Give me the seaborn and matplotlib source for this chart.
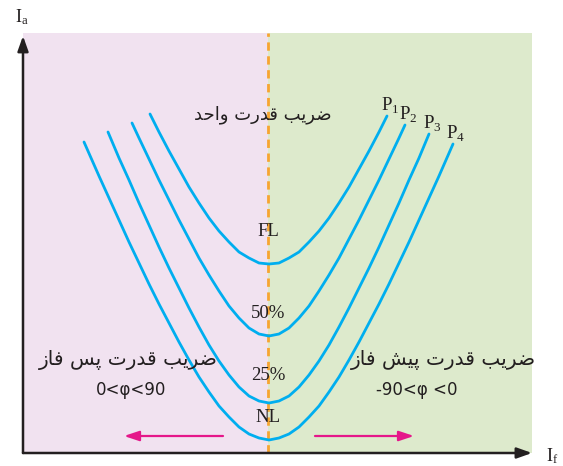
import numpy as np
import pandas as pd
import matplotlib
matplotlib.use("Agg")
import matplotlib.pyplot as plt
import seaborn as sns

# V-curves of a synchronous motor (arbitrary units)
x_fl = [127, 136, 146, 156, 166, 176, 186, 196, 206, 216, 226, 236, 246,
        256, 266, 276, 286, 296, 306, 316, 326, 336, 346, 356, 364]
y_fl = [339, 321, 302, 284, 266, 250, 235, 222, 211, 201, 195, 190, 189,
        190, 195, 201, 211, 222, 235, 250, 266, 284, 302, 321, 337]

x_50 = [109, 116, 126, 136, 146, 156, 166, 176, 186, 196, 206, 216, 226, 236, 246,
        256, 266, 276, 286, 296, 306, 316, 326, 336, 346, 356, 366, 376, 382]
y_50 = [330, 315, 294, 273, 253, 233, 214, 195, 178, 162, 147, 135, 125, 119, 117,
        119, 125, 135, 147, 162, 178, 195, 214, 233, 253, 273, 294, 315, 328]

x_25 = [85, 96, 106, 116, 126, 136, 146, 156, 166, 176, 186, 196, 206, 216, 226, 236, 246,
        256, 266, 276, 286, 296, 306, 316, 326, 336, 346, 356, 366, 376, 386, 396, 406]
y_25 = [321, 295, 273, 250, 228, 206, 185, 165, 145, 126, 108, 92, 78, 66, 57, 52, 50,
        52, 57, 66, 78, 92, 108, 126, 145, 165, 185, 206, 228, 250, 273, 295, 319]

x_nl = [61, 76, 86, 96, 106, 116, 126, 136, 146, 156, 166, 176, 186, 196, 206, 216, 226, 236, 246,
        256, 266, 276, 286, 296, 306, 316, 326, 336, 346, 356, 366, 376, 386, 396, 406, 416, 430]
y_nl = [311, 277, 255, 233, 211, 190, 169, 149, 130, 111, 93, 76, 61, 47, 36, 26, 19, 15, 13,
        15, 19, 26, 36, 47, 61, 76, 93, 111, 130, 149, 169, 190, 211, 233, 255, 277, 309]

load_labels = ["FL", "50%", "25%", "NL"]
load_label_y = [221, 140, 77, 35]
power_labels = ["P$_\\mathregular{1}$", "P$_\\mathregular{2}$",
                "P$_\\mathregular{3}$", "P$_\\mathregular{4}$"]
unity_x = 245          # unity power factor field current
x_max, y_max = 509, 420

CURVE = "#00AEEF"
PINK, GREEN = "#F1E2F0", "#DDEACC"
INK = "#231F20"


# matplotlib does not shape Arabic script, so pick presentation forms by hand
FORMS = {
    "ض": "\uFEBD\uFEBE\uFEBF\uFEC0", "ر": "\uFEAD\uFEAE", "ی": "\uFBFC\uFBFD\uFBFE\uFBFF",
    "ب": "\uFE8F\uFE90\uFE91\uFE92", "ق": "\uFED5\uFED6\uFED7\uFED8", "د": "\uFEA9\uFEAA",
    "ت": "\uFE95\uFE96\uFE97\uFE98", "و": "\uFEED\uFEEE", "ا": "\uFE8D\uFE8E",
    "ح": "\uFEA1\uFEA2\uFEA3\uFEA4", "پ": "\uFB56\uFB57\uFB58\uFB59",
    "س": "\uFEB1\uFEB2\uFEB3\uFEB4", "ش": "\uFEB5\uFEB6\uFEB7\uFEB8",
    "ف": "\uFED1\uFED2\uFED3\uFED4", "ز": "\uFEAF\uFEB0",
}


def shape_fa(text):
    out = []
    for i, ch in enumerate(text):
        if ch not in FORMS:
            out.append(ch)
            continue
        prev = text[i - 1] if i > 0 else " "
        nxt = text[i + 1] if i + 1 < len(text) else " "
        jp = prev in FORMS and len(FORMS[prev]) == 4
        jn = nxt in FORMS and len(FORMS[ch]) == 4
        idx = 3 if (jp and jn) else 1 if jp else 2 if jn else 0
        out.append(FORMS[ch][idx])
    return "".join(reversed(out))


df = pd.concat([
    pd.DataFrame({"If": x_fl, "Ia": y_fl, "load": "FL"}),
    pd.DataFrame({"If": x_50, "Ia": y_50, "load": "50%"}),
    pd.DataFrame({"If": x_25, "Ia": y_25, "load": "25%"}),
    pd.DataFrame({"If": x_nl, "Ia": y_nl, "load": "NL"}),
])

sns.set_style("white")
plt.rcParams["font.family"] = ["DejaVu Sans"]

fig = plt.figure(figsize=(5.63, 4.66), dpi=100)
ax = fig.add_axes([23 / 563, 13 / 466, 509 / 563, 420 / 466])

ax.axvspan(0, unity_x, color=PINK, lw=0, zorder=0)
ax.axvspan(unity_x, x_max, color=GREEN, lw=0, zorder=0)
ax.axvline(unity_x, color="#F7A531", lw=2.0, dashes=(3.0, 2.0), zorder=1)

sns.lineplot(data=df, x="If", y="Ia", hue="load", units="load", estimator=None,
             sort=False, palette=[CURVE] * 4, lw=2.0, legend=False, ax=ax, zorder=3)

ax.set_xlim(0, x_max)
ax.set_ylim(0, y_max)
ax.set_xticks([]); ax.set_yticks([])
ax.set_xlabel(""); ax.set_ylabel("")
for s in ax.spines.values():
    s.set_visible(False)

# axes with arrow heads
arrow = dict(arrowstyle="-|>,head_length=0.9,head_width=0.32", color=INK, lw=1.8,
             shrinkA=0, shrinkB=0)
ax.annotate("", xy=(0, 0.993), xytext=(0, 0), xycoords="axes fraction", arrowprops=arrow)
ax.annotate("", xy=(1.0, 0), xytext=(0, 0), xycoords="axes fraction", arrowprops=arrow)
ax.text(-0.002, 1.038, "$\\mathregular{I_a}$", transform=ax.transAxes, ha="center",
        va="center", fontsize=13, family="Liberation Serif", color=INK)
ax.text(1.04, -0.03, "$\\mathregular{I_f}$", transform=ax.transAxes, ha="center",
        va="bottom", fontsize=13, family="Liberation Serif", color=INK, clip_on=False)

# load labels on the unity line, power labels at the right ends
serif = dict(family="Liberation Serif", fontsize=13.5, color=INK, ha="center", va="center")
for lab, ly in zip(load_labels, load_label_y):
    ax.text(unity_x, ly, lab, **serif)
for lab, xs, ys in zip(power_labels, [x_fl, x_50, x_25, x_nl], [y_fl, y_50, y_25, y_nl]):
    ax.text(xs[-1] + 3, ys[-1] + 10, lab, **serif)

fa = dict(color=INK, ha="center", va="center")
ax.text(unity_x - 5, 338, shape_fa("ضریب قدرت واحد"), fontsize=13, **fa)
ax.text(105, 93, shape_fa("ضریب قدرت پس فاز"), fontsize=14.5, **fa)
ax.text(108, 63, "0<φ<90", fontsize=12, **fa)
ax.text(420, 93, shape_fa("ضریب قدرت پیش فاز"), fontsize=14.5, **fa)
ax.text(394, 63, "-90<φ <0", fontsize=12, **fa)

# direction arrows
mag = dict(arrowstyle="-|>,head_length=0.9,head_width=0.3", color="#E5178A", lw=1.6,
           shrinkA=0, shrinkB=0)
ax.annotate("", xy=(101, 17), xytext=(200, 17), arrowprops=mag)
ax.annotate("", xy=(391, 17), xytext=(292, 17), arrowprops=mag)

fig.savefig("out.png", dpi=100)
